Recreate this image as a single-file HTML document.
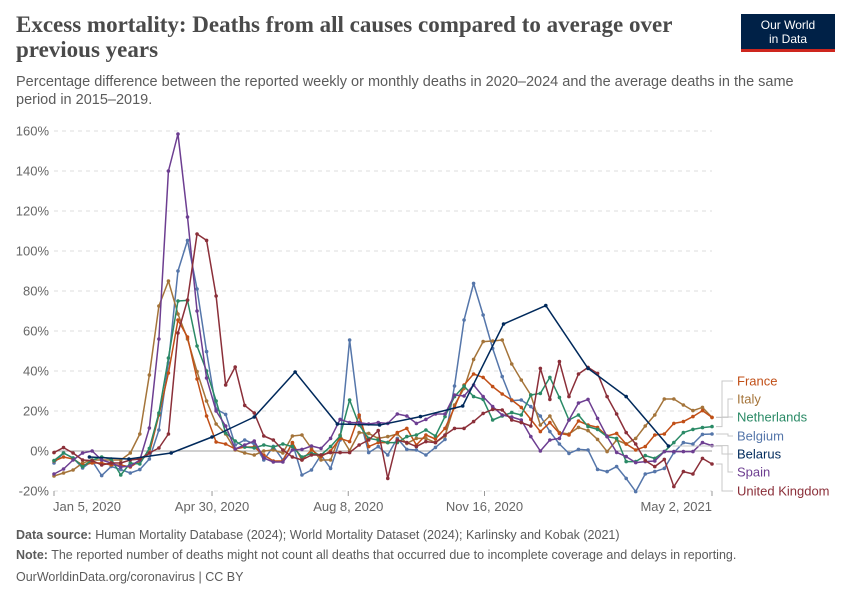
<!DOCTYPE html>
<html><head><meta charset="utf-8">
<style>
body{margin:0;background:#fff;width:850px;height:600px;overflow:hidden;font-family:"Liberation Sans",sans-serif;}
#title{position:absolute;left:16px;top:12px;width:700px;font-family:"Liberation Serif",serif;font-weight:bold;font-size:23px;line-height:25px;color:#4a4a4a;margin:0}
#subtitle{position:absolute;left:16px;top:73px;width:800px;font-size:14.5px;line-height:18px;color:#5b5b5b;margin:0}
#logo{position:absolute;left:741px;top:14px;width:94px;height:38px;background:#002147;border-bottom:3px solid #ce261e;color:#fff;font-size:12px;line-height:14px;text-align:center;padding-top:4px;box-sizing:border-box}
.foot{position:absolute;left:16px;font-size:12.5px;color:#5b5b5b}
svg{position:absolute;left:0;top:0}
</style></head><body>
<h1 id="title">Excess mortality: Deaths from all causes compared to average over previous years</h1>
<p id="subtitle">Percentage difference between the reported weekly or monthly deaths in 2020–2024 and the average deaths in the same period in 2015–2019.</p>
<div id="logo">Our World<br>in Data</div>
<svg id="chart" width="850" height="600"></svg>
<div class="foot" style="top:528px"><b>Data source:</b> Human Mortality Database (2024); World Mortality Dataset (2024); Karlinsky and Kobak (2021)</div>
<div class="foot" style="top:548px"><b>Note:</b> The reported number of deaths might not count all deaths that occurred due to incomplete coverage and delays in reporting.</div>
<div class="foot" style="top:570px">OurWorldinData.org/coronavirus | CC BY</div>
<script>
const yTicks=[-20,0,20,40,60,80,100,120,140,160];
const xTickLabels=["Jan 5, 2020","Apr 30, 2020","Aug 8, 2020","Nov 16, 2020","May 2, 2021"];
const xTickDates=["2020-01-05","2020-04-30","2020-08-08","2020-11-16","2021-05-02"];
const weeklyStart="2020-01-05";
const france=[-5,-3,-4,-7,-6,-6,-7,-7,-8,-5,-1,18,39,65.5,57,36,17.5,4.5,3.5,1,2,2,-2,-5,-5,4.2,-4.5,0.5,-2.8,0,6.3,4.7,18,2.2,4.2,4.2,9.2,11.3,3,8,6,11.3,21.8,33,38.5,36.8,32.2,28.5,25.5,21.8,15.8,9.7,14.2,8.8,8,15,13,11.8,7.5,8.8,3.5,0.5,2.2,8,8.5,13.8,14.7,17.2,20.2,16.8];
const italy=[-12.5,-11,-9.5,-6,-4.5,-4.5,-4.5,-4.5,-1,8.5,38,72.5,85,68.5,56,39.7,25,13.5,8.5,0.5,-1,-2,0,0.5,-1,7.5,8,1.3,-4.5,-4.5,8,0.2,9.2,8.8,6.3,7.2,8.5,3.8,6.3,6.3,4.2,7.5,23,31.3,45.8,54.7,55,55.5,43.5,35.5,28,13,17.5,9.2,8.5,11.8,10.2,5.8,-0.3,5.5,3.5,6.3,12.5,18,26,26,23,20.2,21.8,16.8];
const netherlands=[-4.8,-1,-3.5,-7.8,-4.5,-3,-4,-12,-6,-6.5,1.3,19,46.5,75,75.3,52.5,40,25,9,5,2,1.5,3,2,3.5,2.2,-3,-1.2,-2,2.2,7.5,25.5,13,6.3,5.5,4.2,4.2,7.2,8,10.5,7.5,17.2,27.2,32.5,27.2,25.8,15.5,17.5,19.2,18,28,28.8,36.8,26.8,15.5,18,12.2,10.8,7.2,6.3,-5.3,-5.3,-2.3,-3.7,-0.3,4.2,9.2,10.8,11.7,12.2];
const belgium=[-6,-1,-3.5,-8.5,-5,-12.3,-7.7,-9.3,-11,-9.3,-4,10.5,44,90,105.3,81,49.7,21,18.3,3,5.5,3.5,-4.5,2.3,-4.5,4,-12,-9.5,-2,-8.7,5.5,55.5,17.2,-0.8,2.2,-2,6.3,0.8,0.5,-2,1.8,5.8,32.5,65.5,83.8,68,51.3,37.2,25.2,25.5,22.2,17.5,9.7,3.5,-1.2,0.8,0.5,-9.2,-10.3,-7.8,-13.7,-20.3,-11.5,-10.3,-8.7,-0.8,4.2,3.5,8.3,8.5];
const spain=[-11.5,-9,-4.5,-1,0,-4.5,-6,-8,-7.5,-4.5,11.5,56,140,158.5,117,70,36.5,20,12.5,1,3,5,-3.5,-5.5,-5.5,0.5,0.8,2.5,1.3,6.3,15.8,14.2,14.2,13.5,14.2,13.8,18.5,17.5,13.8,15.8,18.5,18.5,28,27.5,33,27.2,22.2,18,17,15.5,7.2,0,5.5,6.3,15.5,24,25.8,16.3,7.2,-0.7,-2.8,-5.8,-5.3,-5,-0.3,-0.3,-0.3,-0.3,4.2,2.7];
const uk=[-0.8,1.7,-1,-4.5,-4.8,-7,-6,-6,-4.5,-4,-1,1.5,8.5,59,75.5,108.5,105.3,77.5,33,42,22.8,19,7.5,5.5,0.5,-3,-4.5,-2,-2,-0.8,-0.8,-0.8,3,5.5,10.2,-13.7,5.5,4.2,2.2,4.7,4.2,8,11.3,11.3,14.7,18.8,20.8,20.5,15.5,14.2,12.5,41.3,25.8,44.7,27.2,38.5,41.8,38.8,27.2,18.5,9.2,3.5,-4.8,-7.8,-4.2,-17.8,-10.3,-11.5,-3.7,-6.5];
const belarusDates=["2020-01-31","2020-02-29","2020-03-31","2020-04-30","2020-05-31","2020-06-30","2020-07-31","2020-08-31","2020-09-30","2020-10-31","2020-11-30","2020-12-31","2021-01-31","2021-02-28","2021-03-31"];
const belarus=[-3,-4,-1,7,17,39.5,13.5,13,17.2,22.5,63.5,72.7,41.3,27.2,2.5];

const NS="http://www.w3.org/2000/svg";
const svg=document.getElementById('chart');
const X0=54,X1=712,Y0=451,PXPCT=2;
const t0=Date.parse("2020-01-05"),t1=Date.parse("2021-05-02");
function xDate(s){return X0+(Date.parse(s)-t0)/(t1-t0)*(X1-X0);}
function xWeek(i){return X0+(i*7*864e5)/(t1-t0)*(X1-X0);}
function y(v){return Y0-v*PXPCT;}
function el(tag,attrs,parent){const e=document.createElementNS(NS,tag);for(const k in attrs)e.setAttribute(k,attrs[k]);(parent||svg).appendChild(e);return e;}

yTicks.forEach(v=>{
  const g=el('line',{x1:X0,x2:X1,y1:y(v),y2:y(v),stroke:v===0?'#a0a0a0':'#dddddd','stroke-dasharray':v===0?'':'4,4'});
  
  
  const t=el('text',{x:49,y:y(v)+4.5,'text-anchor':'end','font-size':'13','fill':'#666','font-family':'Liberation Sans'});
  t.textContent=v+'%';
  
  
});
xTickDates.forEach((d,i)=>{
  const x=xDate(d);
  const tk=el('line',{x1:x,x2:x,y1:491,y2:496,stroke:'#999'});
  
  
  const anchor=i===0?'start':(i===xTickDates.length-1?'end':'middle');
  const t=el('text',{x:i===0?x-1:x,y:511,'text-anchor':anchor,'font-size':'13','fill':'#666','font-family':'Liberation Sans'});
  t.textContent=xTickLabels[i];
  
  
});

const series=[
 {name:'France',vals:france,color:'#c14f17',ly:381},
 {name:'Italy',vals:italy,color:'#a4743a',ly:399},
 {name:'Netherlands',vals:netherlands,color:'#2a8a66',ly:417},
 {name:'Belgium',vals:belgium,color:'#5576aa',ly:436},
 {name:'Belarus',vals:belarus,color:'#00295b',ly:454,dates:belarusDates},
 {name:'Spain',vals:spain,color:'#6d3e91',ly:472},
 {name:'United Kingdom',vals:uk,color:'#8b2f39',ly:491}
];
const order=['Belgium','Italy','France','Netherlands','Spain','United Kingdom','Belarus'];
order.forEach(n=>{
  const s=series.find(q=>q.name===n);
  const pts=s.vals.map((v,i)=>[s.dates?xDate(s.dates[i]):xWeek(i),y(v)]);
  const slug=s.name.toLowerCase().replace(/ /g,'-');
  const p=el('polyline',{points:pts.map(p=>p.join(',')).join(' '),fill:'none',stroke:s.color,'stroke-width':1.5,'stroke-linejoin':'round'});
  
  
  pts.forEach(pt=>{
    const c=el('circle',{cx:pt[0],cy:pt[1],r:1.8,fill:s.color});
    
    
  });
  s.end=pts[pts.length-1];
});
series.forEach((s,i)=>{
  const slug=s.name.toLowerCase().replace(/ /g,'-');
  const bx=i%2===0?722:728;
  const c=el('polyline',{points:`${s.end[0]+4},${s.end[1]} ${bx},${s.end[1]} ${bx},${s.ly} ${733},${s.ly}`,fill:'none',stroke:'#c8c8c8','stroke-width':1});
  
  
  const t=el('text',{x:737,y:s.ly+4.5,'font-size':'13','fill':s.color,'font-family':'Liberation Sans'});
  t.textContent=s.name;
  
  
});
</script>
</body></html>
